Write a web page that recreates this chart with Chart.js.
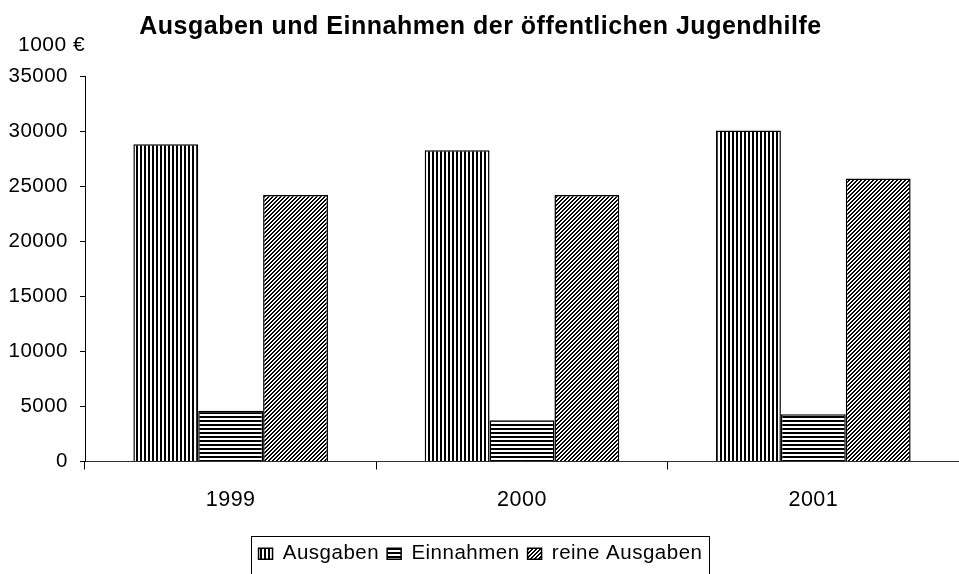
<!DOCTYPE html>
<html>
<head>
<meta charset="utf-8">
<script src="https://cdn.jsdelivr.net/npm/chart.js@4/dist/chart.umd.min.js"></script>
<style>
  html, body { margin: 0; padding: 0; background: #fff; }
  #wrap { width: 959px; height: 574px; }
</style>
</head>
<body>
<div id="wrap"><canvas id="c" width="959" height="574"></canvas></div>
<script>
const chartTitle = 'Ausgaben und Einnahmen der öffentlichen Jugendhilfe';
const unitLabel = '1000 €';
const categories = ['1999', '2000', '2001'];
const seriesNames = ['Ausgaben', 'Einnahmen', 'reine Ausgaben'];
const ausgaben = [28800, 28250, 30050];
const einnahmen = [4600, 3750, 4300];
const reineAusgaben = [24200, 24200, 25700];
const yMin = 0, yMax = 35000, yStep = 5000;

const tmp = document.createElement('canvas').getContext('2d');
function pat(kind) {
  const c = document.createElement('canvas');
  c.width = 4; c.height = 4;
  const g = c.getContext('2d');
  g.fillStyle = '#fff'; g.fillRect(0, 0, 4, 4);
  g.fillStyle = '#000';
  if (kind === 'v') g.fillRect(0, 0, 2, 4);
  else if (kind === 'h') g.fillRect(0, 0, 4, 2);
  else {
    for (let x = 0; x < 4; x++) for (let y = 0; y < 4; y++)
      if ((x + y) % 4 < 2) g.fillRect(x, y, 1, 1);
  }
  return tmp.createPattern(c, 'repeat');
}

const FONT = "'Liberation Sans', Arial, sans-serif";
const LS = '0.5px';
Chart.defaults.font.family = FONT;
Chart.defaults.color = '#000';

const spacingPlugin = {
  id: 'spacing',
  beforeUpdate(chart) { chart.ctx.letterSpacing = LS; },
  beforeLayout(chart) { chart.ctx.letterSpacing = LS; },
  beforeDraw(chart) { chart.ctx.letterSpacing = LS; }
};

const extrasPlugin = {
  id: 'extras',
  afterDraw(chart) {
    const ctx = chart.ctx;
    const ca = chart.chartArea;
    ctx.save();
    ctx.letterSpacing = LS;
    ctx.fillStyle = '#000';
    ctx.font = '21px ' + FONT;
    ctx.textAlign = 'left';
    ctx.textBaseline = 'middle';
    ctx.fillText(unitLabel, ca.left - 67, ca.top - 31);
    const lg = chart.legend;
    const hb = lg.legendHitBoxes;
    if (hb && hb.length) {
      const l = hb[0].left - 8;
      const last = hb[hb.length - 1];
      const r = last.left + last.width + 6;
      ctx.strokeStyle = '#000';
      ctx.lineWidth = 1;
      ctx.strokeRect(Math.round(l) + 0.5, Math.round(lg.top) + 0.5, Math.round(r - l), 100);
    }
    ctx.restore();
  }
};

new Chart(document.getElementById('c'), {
  type: 'bar',
  data: {
    labels: categories,
    datasets: [
      { label: seriesNames[0], data: ausgaben, backgroundColor: pat('v'), borderColor: '#000', borderWidth: 1.5 },
      { label: seriesNames[1], data: einnahmen, backgroundColor: pat('h'), borderColor: '#000', borderWidth: 1.5 },
      { label: seriesNames[2], data: reineAusgaben, backgroundColor: pat('d'), borderColor: '#000', borderWidth: 1.5 }
    ]
  },
  options: {
    responsive: false,
    animation: false,
    devicePixelRatio: 1,
    layout: { padding: { left: 0, right: -2, top: 0, bottom: 0 } },
    datasets: { bar: { categoryPercentage: 0.668, barPercentage: 1 } },
    plugins: {
      tooltip: { enabled: false },
      title: {
        display: true,
        text: chartTitle,
        font: { size: 25, weight: 'bold', family: FONT },
        color: '#000',
        padding: { top: 12, bottom: 34 }
      },
      legend: {
        position: 'bottom',
        labels: {
          boxWidth: 14, boxHeight: 11, padding: 8,
          font: { size: 20.5, family: FONT }, color: '#000'
        }
      }
    },
    scales: {
      x: {
        grid: { offset: true, drawOnChartArea: false, tickLength: 8, color: '#000' },
        border: { color: '#333', width: 1 },
        ticks: { font: { size: 21.5, family: FONT }, color: '#000', padding: 18 },
        afterFit(s) { s.height = 74; }
      },
      y: {
        min: yMin, max: yMax,
        grid: { drawOnChartArea: false, tickLength: 5, color: '#000' },
        border: { color: '#000', width: 1 },
        ticks: { stepSize: yStep, font: { size: 20.5, family: FONT }, color: '#000', padding: 12,
                 callback: v => String(v) },
        afterFit(s) { s.width = 85; }
      }
    }
  },
  plugins: [spacingPlugin, extrasPlugin]
});
</script>
</body>
</html>
